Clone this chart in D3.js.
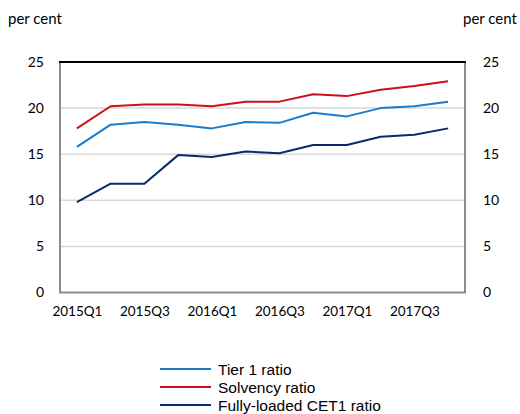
<!DOCTYPE html>
<html><head><meta charset="utf-8">
<script src="https://cdn.jsdelivr.net/npm/d3@7"></script>
<style>body{margin:0;background:#fff}svg{display:block}</style>
</head><body>
<svg id="c" width="520" height="414"></svg>
<script>
const quarters = ["2015Q1","2015Q2","2015Q3","2015Q4","2016Q1","2016Q2","2016Q3","2016Q4","2017Q1","2017Q2","2017Q3","2017Q4"];
const tier1 = [15.8,18.2,18.5,18.2,17.8,18.5,18.4,19.5,19.1,20.0,20.2,20.7];
const solvency = [17.8,20.2,20.4,20.4,20.2,20.7,20.7,21.5,21.3,22.0,22.4,22.9];
const cet1 = [9.8,11.8,11.8,14.9,14.7,15.3,15.1,16.0,16.0,16.9,17.1,17.8];
const yTicks = [0,5,10,15,20,25];
const xTickLabels = ["2015Q1","2015Q3","2016Q1","2016Q3","2017Q1","2017Q3"];
const seriesNames = ["Tier 1 ratio","Solvency ratio","Fully-loaded CET1 ratio"];

const series = [
  {name: seriesNames[0], values: tier1, color: "#1a7ccb"},
  {name: seriesNames[1], values: solvency, color: "#cc1017"},
  {name: seriesNames[2], values: cet1, color: "#0b2a6b"}
];

const svg = d3.select("#c");
const L = 60, R = 465, T = 62, B = 292.5;
const x = d3.scalePoint().domain(quarters).range([L, R]).padding(0.5);
const y = d3.scaleLinear().domain([0, 25]).range([B, T]);
const font = "Lato, 'Open Sans', sans-serif";

// gridlines
svg.append("g").selectAll("line").data(yTicks.filter(d => d > 0 && d < 25)).join("line")
  .attr("x1", L).attr("x2", R).attr("y1", d => y(d)).attr("y2", d => y(d))
  .attr("stroke", "#d9d9d9").attr("stroke-width", 1.5);

// frame
svg.append("line").attr("x1", L).attr("x2", L).attr("y1", T).attr("y2", B).attr("stroke", "#8c8c8c").attr("stroke-width", 2);
svg.append("line").attr("x1", R).attr("x2", R).attr("y1", T).attr("y2", B).attr("stroke", "#8c8c8c").attr("stroke-width", 2);
svg.append("line").attr("x1", L-1).attr("x2", R+1).attr("y1", B).attr("y2", B).attr("stroke", "#8c8c8c").attr("stroke-width", 2);
svg.append("line").attr("x1", L-1).attr("x2", R+1).attr("y1", T).attr("y2", T).attr("stroke", "#000").attr("stroke-width", 2);

// left axis labels
const leftAxis = d3.axisLeft(y).tickValues(yTicks).tickSize(0).tickPadding(0);
const gl = svg.append("g").attr("transform", `translate(${L-16},0)`).call(leftAxis);
gl.select(".domain").remove();
gl.selectAll("text").attr("font-family", font).attr("font-size", 14).attr("fill", "#000");

const rightAxis = d3.axisRight(y).tickValues(yTicks).tickSize(0).tickPadding(0);
const gr = svg.append("g").attr("transform", `translate(${R+18},0)`).call(rightAxis);
gr.select(".domain").remove();
gr.selectAll("text").attr("font-family", font).attr("font-size", 14).attr("fill", "#000");

// x axis labels
const xAxis = d3.axisBottom(x).tickValues(xTickLabels).tickSize(0).tickPadding(0);
const gx = svg.append("g").attr("transform", `translate(0,${B+14})`).call(xAxis);
gx.select(".domain").remove();
gx.selectAll("text").attr("font-family", font).attr("font-size", 13.5).attr("fill", "#000");

// per cent labels
svg.append("text").attr("x", 8).attr("y", 24).attr("font-family", font).attr("font-size", 15).text("per cent");
svg.append("text").attr("x", 463).attr("y", 24).attr("font-family", font).attr("font-size", 15).text("per cent");

// lines
const line = d3.line().x((d, i) => x(quarters[i])).y(d => y(d));
svg.append("g").selectAll("path").data(series).join("path")
  .attr("d", d => line(d.values)).attr("fill", "none")
  .attr("stroke", d => d.color).attr("stroke-width", 2).attr("stroke-linejoin", "round");

// legend
const lg = svg.append("g").selectAll("g").data(series).join("g")
  .attr("transform", (d, i) => `translate(160,${369 + i*18})`);
lg.append("line").attr("x1", 0).attr("x2", 51).attr("y1", 0).attr("y2", 0)
  .attr("stroke", d => d.color).attr("stroke-width", 2);
lg.append("text").attr("x", 58).attr("y", 5.5).attr("font-family", "'Liberation Sans', Arial, sans-serif")
  .attr("font-size", 15.5).text(d => d.name);
</script>
</body></html>
